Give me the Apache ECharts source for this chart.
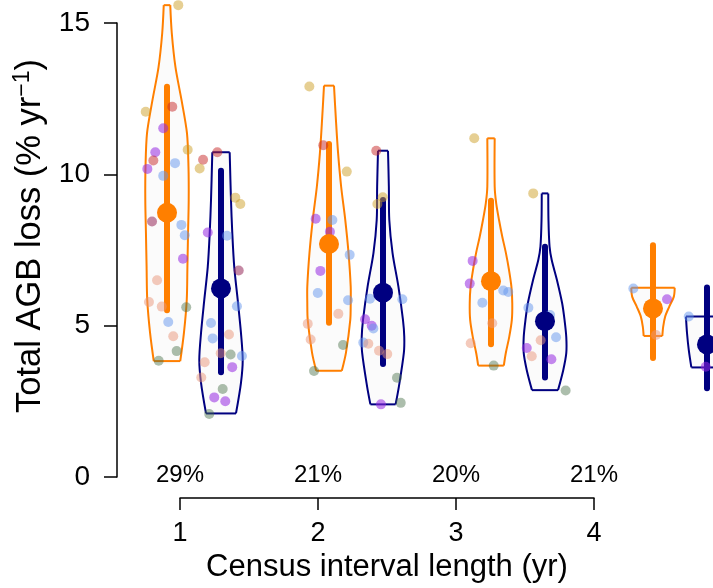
<!DOCTYPE html>
<html>
<head>
<meta charset="utf-8">
<script src="https://cdn.jsdelivr.net/npm/echarts@6/dist/echarts.min.js"></script>
<style>
html, body { margin: 0; padding: 0; background: #fff; }
#main { width: 713px; height: 588px; }
</style>
</head>
<body>
<div id="main"></div>
<script>
// census interval groups and the share labels printed above the axis
var groups = [1, 2, 3, 4];
var pctLabels = ['29%', '21%', '20%', '21%'];

// mean and interval of each group
var orangeMean = [8.73, 7.70, 6.47, 5.57];
var orangeLo = [5.51, 5.10, 4.39, 3.93];
var orangeHi = [12.89, 11.00, 9.13, 7.66];
var navyMean = [6.23, 6.09, 5.15, 4.38];
var navyLo = [3.46, 3.73, 3.29, 2.93];
var navyHi = [10.12, 9.15, 7.61, 6.26];

// violin outlines: [value, relative density], from top to bottom
var violinOrange = [
  [[15.59, .15], [14.67, .22], [13.54, .39], [12.45, .67], [11.36, .92], [10.24, .99], [9.15, 1], [8.06, .97], [6.94, .94], [5.85, .91], [4.76, .78], [3.83, .61]],
  [[12.93, .23], [11.79, .32], [10.69, .42], [9.59, .56], [8.49, .75], [7.40, .90], [6.29, 1], [5.75, 1], [5.19, .98], [4.10, .78], [3.51, .59]],
  [[11.19, .17], [9.59, .17], [9.04, .24], [8.49, .37], [7.94, .52], [7.39, .69], [6.84, .83], [6.29, .94], [5.74, .98], [5.19, .96], [4.63, .84], [4.09, .68], [3.68, .59]],
  [[6.25, 1], [5.96, .96], [5.63, .75], [5.30, .56], [4.97, .47], [4.66, .43]]
];
var violinNavy = [
  [[10.73, .40], [9.15, .46], [8.06, .52], [6.94, .61], [5.85, .77], [4.76, .92], [3.87, 1], [3.11, .92], [2.10, .69]],
  [[10.78, .23], [9.59, .27], [8.49, .29], [7.40, .44], [6.29, .71], [5.19, .92], [4.63, .98], [4.10, .96], [2.98, .73], [2.40, .58]],
  [[9.37, .15], [8.49, .16], [7.61, .21], [7.17, .31], [6.51, .55], [5.74, .79], [5.19, .90], [4.63, .98], [4.09, .98], [3.53, .84], [2.87, .60]],
  [[5.30, .97], [4.75, .92], [4.20, .84], [3.62, .72]]
];

// jittered observations: [x, value, colour key]
var pointsOrange = [
  [0.903, 15.59, 'gold'], [0.702, 12.07, 'gold'], [0.866, 12.23, 'red'], [0.810, 11.52, 'purple'],
  [0.761, 10.73, 'purple'], [0.749, 10.46, 'red'], [0.712, 10.18, 'purple'], [0.961, 10.81, 'gold'],
  [0.883, 10.37, 'blue'], [0.810, 9.95, 'blue'], [0.741, 8.44, 'plum'], [0.922, 8.33, 'blue'],
  [0.943, 7.99, 'blue'], [0.932, 7.21, 'purple'], [0.772, 6.50, 'salmon'], [0.722, 5.78, 'salmon'],
  [0.801, 5.63, 'salmon'], [0.952, 5.61, 'sage'], [0.841, 5.12, 'blue'], [0.872, 4.65, 'salmon'],
  [0.893, 4.16, 'sage'], [0.782, 3.84, 'sage'],
  [1.712, 12.90, 'gold'], [1.798, 10.96, 'red'], [1.943, 10.09, 'gold'], [1.751, 8.53, 'purple'],
  [1.854, 8.49, 'blue'], [1.839, 8.10, 'purple'], [1.961, 7.34, 'blue'], [1.780, 6.81, 'purple'],
  [1.764, 6.08, 'blue'], [1.951, 5.84, 'blue'], [1.891, 5.39, 'salmon'], [1.702, 5.06, 'salmon'],
  [1.720, 4.54, 'salmon'], [1.920, 4.36, 'sage'], [1.741, 3.50, 'sage'],
  [2.730, 11.19, 'gold'], [2.720, 7.14, 'purple'], [2.702, 6.39, 'purple'], [2.909, 6.16, 'blue'],
  [2.940, 6.11, 'blue'], [2.780, 5.76, 'blue'], [2.841, 5.08, 'salmon'], [2.708, 4.42, 'salmon'],
  [2.850, 3.68, 'sage'],
  [3.712, 6.23, 'blue'], [3.920, 5.87, 'purple'], [3.852, 4.69, 'salmon']
];
var pointsNavy = [
  [1.056, 10.48, 'red'], [1.144, 10.73, 'red'], [1.035, 10.19, 'gold'], [1.255, 9.23, 'gold'],
  [1.286, 9.02, 'gold'], [1.085, 8.08, 'purple'], [1.204, 7.97, 'blue'], [1.276, 6.82, 'plum'],
  [1.265, 5.64, 'blue'], [1.105, 5.09, 'blue'], [1.115, 4.58, 'blue'], [1.216, 4.71, 'salmon'],
  [1.165, 4.09, 'salmon'], [1.226, 4.05, 'sage'], [1.296, 4.00, 'blue'], [1.066, 3.79, 'salmon'],
  [1.236, 3.63, 'purple'], [1.045, 3.29, 'salmon'], [1.177, 2.91, 'sage'], [1.125, 2.63, 'purple'],
  [1.193, 2.50, 'purple'], [1.094, 2.08, 'sage'],
  [2.125, 10.78, 'red'], [2.165, 9.24, 'gold'], [2.132, 9.02, 'gold'], [2.086, 5.89, 'blue'],
  [2.286, 5.87, 'blue'], [2.056, 5.21, 'purple'], [2.097, 5.00, 'purple'], [2.107, 4.91, 'blue'],
  [2.045, 4.44, 'blue'], [2.076, 4.40, 'salmon'], [2.142, 4.17, 'salmon'], [2.193, 4.06, 'salmon'],
  [2.253, 3.28, 'sage'], [2.276, 2.45, 'sage'], [2.154, 2.40, 'purple'],
  [3.094, 9.37, 'gold'], [3.064, 5.59, 'blue'], [3.198, 5.35, 'blue'], [3.235, 4.62, 'blue'],
  [3.140, 4.52, 'salmon'], [3.054, 4.26, 'purple'], [3.085, 3.99, 'salmon'], [3.206, 3.89, 'purple'],
  [3.294, 2.86, 'sage'],
  [4.054, 5.30, 'blue'], [4.159, 3.64, 'purple']
];

var ORANGE = '#ff7f00';
var NAVY = '#000080';
var DODGE = 1 / 6;
var VIOLIN_HW = 0.134;
var FONT = 'Liberation Sans, Arial, sans-serif';
var palette = {
  gold: 'rgba(205,160,40,0.5)',
  red: 'rgba(200,40,40,0.5)',
  purple: 'rgba(150,40,225,0.55)',
  blue: 'rgba(100,149,237,0.5)',
  salmon: 'rgba(233,150,122,0.5)',
  sage: 'rgba(70,110,70,0.45)',
  plum: 'rgba(150,40,90,0.55)'
};

function violinRender(profiles, color, dodge) {
  return function (params, api) {
    var cx = api.value(0) + dodge;
    var prof = profiles[params.dataIndex];
    var left = prof.map(function (p) { return api.coord([cx - p[1] * VIOLIN_HW, p[0]]); });
    var right = prof.map(function (p) { return api.coord([cx + p[1] * VIOLIN_HW, p[0]]); });
    var n = prof.length - 1;
    var line = { stroke: color, lineWidth: 2, fill: null };
    return {
      type: 'group',
      children: [
        { type: 'polygon', shape: { points: left.concat(right.slice().reverse()), smooth: 0.3 }, style: { fill: '#fbfbfb', stroke: null } },
        { type: 'polyline', shape: { points: left, smooth: 0.3 }, style: line },
        { type: 'polyline', shape: { points: right, smooth: 0.3 }, style: line },
        { type: 'line', shape: { x1: left[0][0], y1: left[0][1], x2: right[0][0], y2: right[0][1] }, style: line },
        { type: 'line', shape: { x1: left[n][0], y1: left[n][1], x2: right[n][0], y2: right[n][1] }, style: line }
      ]
    };
  };
}

function barRender(color, dodge) {
  return function (params, api) {
    var x = api.value(0) + dodge;
    var a = api.coord([x, api.value(1)]);
    var b = api.coord([x, api.value(2)]);
    return {
      type: 'line',
      shape: { x1: a[0], y1: a[1], x2: b[0], y2: b[1] },
      style: { stroke: color, lineWidth: 6, lineCap: 'round' }
    };
  };
}

function pointData(pts) {
  return pts.map(function (p) {
    return { value: [p[0], p[1]], itemStyle: { color: palette[p[2]] } };
  });
}

var chart = echarts.init(document.getElementById('main'));
chart.setOption({
  animation: false,
  backgroundColor: '#ffffff',
  textStyle: { fontFamily: FONT },
  grid: { left: 180, right: 119, top: 23, bottom: 111, containLabel: false },
  xAxis: [
    {
      type: 'value', min: 1, max: 4, interval: 1, position: 'bottom', offset: 21,
      axisLine: { show: true, onZero: false, lineStyle: { color: '#000', width: 1.5 } },
      axisTick: { show: true, length: 12, lineStyle: { color: '#000', width: 1.5 } },
      axisLabel: { fontSize: 27, color: '#000', margin: 22, fontFamily: FONT },
      splitLine: { show: false },
      name: 'Census interval length (yr)', nameLocation: 'middle', nameGap: 46,
      nameTextStyle: { fontSize: 31, color: '#000', fontFamily: FONT }
    },
    {
      type: 'value', min: 0.91358, max: 3.46914, show: false
    }
  ],
  yAxis: {
    type: 'value', min: 0, max: 15, interval: 5, offset: 63,
    axisLine: { show: true, onZero: false, lineStyle: { color: '#000', width: 1.5 } },
    axisTick: { show: true, length: 13, lineStyle: { color: '#000', width: 1.5 } },
    axisLabel: { fontSize: 28, color: '#000', margin: 27, fontFamily: FONT },
    splitLine: { show: false },
    name: 'Total AGB loss (% yr{sup|−1})', nameLocation: 'middle', nameGap: 63,
    nameTextStyle: {
      fontSize: 34.5, color: '#000', fontFamily: FONT, padding: [0, 0, 0, 28],
      rich: { sup: { fontSize: 23, verticalAlign: 'top', lineHeight: 38, fontFamily: FONT, color: '#000' } }
    }
  },
  series: [
    {
      type: 'custom', xAxisIndex: 1, clip: false,
      renderItem: violinRender(violinOrange, ORANGE, -DODGE),
      data: groups.map(function (g, i) { return [g, orangeMean[i]]; })
    },
    {
      type: 'custom', xAxisIndex: 1, clip: false,
      renderItem: violinRender(violinNavy, NAVY, DODGE),
      data: groups.map(function (g, i) { return [g, navyMean[i]]; })
    },
    {
      type: 'scatter', xAxisIndex: 1, clip: false, symbolSize: 10,
      itemStyle: { opacity: 1 },
      data: pointData(pointsOrange).concat(pointData(pointsNavy))
    },
    {
      type: 'custom', xAxisIndex: 1, clip: false,
      renderItem: barRender(ORANGE, -DODGE),
      data: groups.map(function (g, i) { return [g, orangeLo[i], orangeHi[i]]; })
    },
    {
      type: 'custom', xAxisIndex: 1, clip: false,
      renderItem: barRender(NAVY, DODGE),
      data: groups.map(function (g, i) { return [g, navyLo[i], navyHi[i]]; })
    },
    {
      type: 'scatter', xAxisIndex: 1, clip: false, symbolSize: 20,
      itemStyle: { color: ORANGE, opacity: 1 },
      data: groups.map(function (g, i) { return [g - DODGE, orangeMean[i]]; })
    },
    {
      type: 'scatter', xAxisIndex: 1, clip: false, symbolSize: 20,
      itemStyle: { color: NAVY, opacity: 1 },
      data: groups.map(function (g, i) { return [g + DODGE, navyMean[i]]; })
    },
    {
      type: 'scatter', xAxisIndex: 0, clip: false, symbolSize: 0, silent: true,
      itemStyle: { opacity: 1 },
      label: {
        show: true, position: 'inside', offset: [0, -2], fontSize: 24, color: '#000', fontFamily: FONT,
        formatter: function (p) { return pctLabels[p.dataIndex]; }
      },
      data: groups.map(function (g) { return [g, 0]; })
    }
  ]
});
</script>
</body>
</html>
